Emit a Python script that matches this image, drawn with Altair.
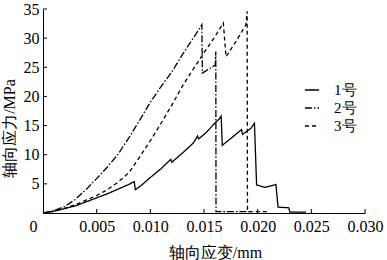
import altair as alt
import pandas as pd

# Data
strain1 = [0, 0.001, 0.002, 0.003, 0.004, 0.005, 0.006, 0.007, 0.008, 0.0085, 0.0086, 0.0092, 0.0100,
           0.0110, 0.0119, 0.0120, 0.0130, 0.0140, 0.0144, 0.0145, 0.0152, 0.0160, 0.0164, 0.0166,
           0.0167, 0.0175, 0.0183, 0.0185, 0.0186, 0.0192, 0.0194, 0.0197, 0.0199, 0.0203, 0.0207,
           0.0211, 0.0215, 0.0217, 0.0219, 0.0229, 0.0230, 0.0245]
stress1 = [0, 0.3, 0.75, 1.2, 1.9, 2.6, 3.3, 4.1, 4.9, 5.4, 4.0, 4.8, 6.1,
           7.6, 9.2, 8.7, 10.3, 12.0, 13.2, 12.7, 13.8, 15.4, 16.1, 16.6,
           11.6, 12.8, 14.0, 14.3, 13.5, 14.3, 14.6, 15.4, 4.8, 4.6, 4.4,
           4.6, 4.8, 4.9, 1.0, 0.9, 0.15, 0.15]

strain2 = [0, 0.001, 0.002, 0.003, 0.004, 0.005, 0.006, 0.007, 0.008, 0.009, 0.010, 0.011, 0.012,
           0.013, 0.014, 0.0148, 0.01485, 0.01605, 0.0161, 0.01612, 0.0194]
stress2 = [0, 0.4, 1.1, 2.3, 4.0, 5.9, 7.9, 10.1, 12.9, 15.9, 19.0, 21.7, 24.2,
           27.2, 30.0, 32.3, 24.0, 25.4, 27.7, 0.25, 0.25]

strain3 = [0, 0.001, 0.002, 0.003, 0.004, 0.005, 0.006, 0.007, 0.008, 0.009, 0.010, 0.011, 0.012,
           0.013, 0.014, 0.015, 0.016, 0.0168, 0.01705, 0.0180, 0.0189, 0.01902, 0.01905, 0.0209]
stress3 = [0, 0.3, 0.8, 1.4, 2.2, 3.0, 4.0, 5.3, 6.9, 9.6, 12.4, 15.4, 18.5,
           21.8, 24.7, 27.5, 30.2, 32.6, 26.8, 29.5, 32.3, 34.6, 0.25, 0.25]

series_names = ["1号", "2号", "3号"]
x_ticks = [0, 0.005, 0.010, 0.015, 0.020, 0.025, 0.030]
y_ticks = [5, 10, 15, 20, 25, 30, 35]

rows = []
for name, xs, ys in zip(series_names, [strain1, strain2, strain3], [stress1, stress2, stress3]):
    for i, (a, b) in enumerate(zip(xs, ys)):
        rows.append({"series": name, "idx": i, "strain": a, "stress": b})
df = pd.DataFrame(rows)

FONT = "Liberation Serif"

xscale = alt.Scale(domain=[0, 0.030], nice=False, zero=False)
yscale = alt.Scale(domain=[0, 35], nice=False)

xaxis = alt.Axis(values=x_ticks, title="轴向应变/mm",
                 labelExpr="datum.value == 0 ? '0' : format(datum.value, '.3f')",
                 labelOffset={"condition": {"test": "datum.value == 0", "value": -10}, "value": 0},
                 ticks=False, tickSize=0, labelPadding=5, titlePadding=10,
                 titleX=172, labelOverlap=False, labelBound=False, labelFlush=False,
                 labelFontSize=16, titleFontSize=16, grid=False)
yaxis = alt.Axis(values=y_ticks, title="轴向应力/MPa", ticks=False, tickSize=0,
                 labelPadding=4, titlePadding=6, labelFontSize=16, titleFontSize=16,
                 titleY=119, labelOverlap=False, labelFlush=False, grid=False)

lines = alt.Chart(df).mark_line(color="black", strokeWidth=1.3).encode(
    x=alt.X("strain:Q", scale=xscale, axis=xaxis, title="轴向应变/mm"),
    y=alt.Y("stress:Q", scale=yscale, axis=yaxis, title="轴向应力/MPa"),
    strokeDash=alt.StrokeDash("series:N",
                              scale=alt.Scale(domain=series_names,
                                              range=[[1, 0], [7, 2, 1.5, 2], [4, 3]]),
                              legend=alt.Legend(title=None, orient="none", legendX=261, legendY=73,
                                                symbolType="stroke", symbolSize=200,
                                                symbolStrokeColor="black", symbolStrokeWidth=1.3,
                                                labelFontSize=15, labelFont=FONT, rowPadding=2,
                                                labelOffset=14, padding=0)),
    order="idx:Q",
    detail="series:N",
)

xt = alt.Chart(pd.DataFrame({"t": x_ticks[1:]})).mark_rule(color="black", strokeWidth=1).encode(
    x=alt.X("t:Q", scale=xscale, axis=xaxis, title="轴向应变/mm"),
    y=alt.value(204), y2=alt.value(200),
)
yt = alt.Chart(pd.DataFrame({"t": y_ticks})).mark_rule(color="black", strokeWidth=1).encode(
    y=alt.Y("t:Q", scale=yscale, axis=yaxis, title="轴向应力/MPa"),
    x=alt.value(0), x2=alt.value(4),
)

chart = alt.layer(lines, xt, yt).properties(
    width=322, height=204,
    padding={"left": 43, "top": 9, "right": 22, "bottom": 47},
    autosize="none",
).configure_view(stroke=None).configure_axis(
    domainColor="black", domainWidth=1, labelColor="black", titleColor="black",
    labelFont=FONT, titleFont=FONT, titleFontWeight="normal",
)

chart.save("out.html", embed_options={"renderer": "svg", "actions": False})
